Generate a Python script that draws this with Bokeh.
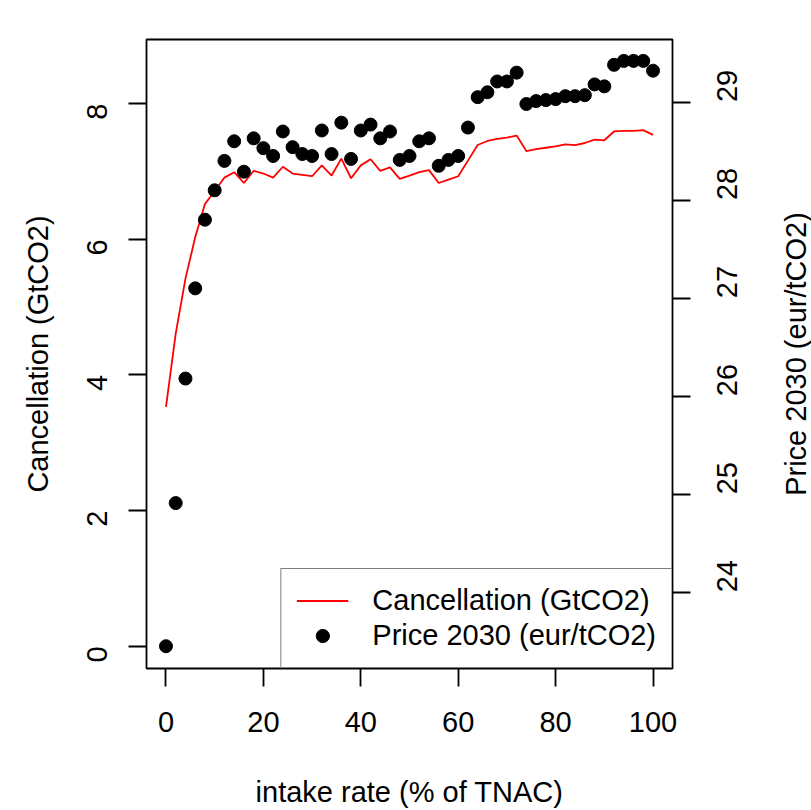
import math
from bokeh.plotting import figure
from bokeh.models import Range1d, LinearAxis, FixedTicker, Legend, LegendItem, Label
from bokeh.embed import file_html
from bokeh.resources import INLINE

# ---- data ----
intake = [0, 2, 4, 6, 8, 10, 12, 14, 16, 18, 20, 22, 24, 26, 28, 30, 32, 34, 36, 38,
          40, 42, 44, 46, 48, 50, 52, 54, 56, 58, 60, 62, 64, 66, 68, 70, 72, 74, 76, 78,
          80, 82, 84, 86, 88, 90, 92, 94, 96, 98, 100]

cancellation = [3.53, 4.61, 5.42, 6.03, 6.52, 6.71, 6.91, 6.99, 6.83, 7.01,
                6.97, 6.91, 7.07, 6.97, 6.95, 6.93, 7.09, 6.94, 7.19, 6.90,
                7.09, 7.18, 7.01, 7.06, 6.89, 6.94, 6.99, 7.02, 6.83, 6.88,
                6.93, 7.16, 7.39, 7.45, 7.48, 7.50, 7.53, 7.30, 7.33, 7.35,
                7.37, 7.40, 7.39, 7.42, 7.47, 7.46, 7.59, 7.60, 7.60, 7.61,
                7.54]

price = [23.45, 24.91, 26.18, 27.10, 27.80, 28.10, 28.40, 28.60, 28.29, 28.63,
         28.53, 28.45, 28.70, 28.54, 28.47, 28.45, 28.71, 28.47, 28.79, 28.42,
         28.71, 28.77, 28.63, 28.70, 28.41, 28.45, 28.60, 28.63, 28.35, 28.41,
         28.45, 28.74, 29.05, 29.10, 29.21, 29.21, 29.30, 28.98, 29.01, 29.02,
         29.03, 29.06, 29.06, 29.07, 29.18, 29.16, 29.38, 29.42, 29.42, 29.42,
         29.32]

x_ticks = [0, 20, 40, 60, 80, 100]
left_ticks = [0, 2, 4, 6, 8]
right_ticks = [24, 25, 26, 27, 28, 29]

x_label = "intake rate (% of TNAC)"
left_label = "Cancellation (GtCO2)"
right_label = "Price 2030 (eur/tCO2)"

FONT = "Liberation Sans"
FS = "29px"
LW = 1.8

X0, X1 = -4, 104
YL0, YL1 = -0.328, 8.946

p = figure(width=811, height=810, output_backend="svg", toolbar_location=None,
           x_range=Range1d(X0, X1), y_range=Range1d(YL0, YL1),
           min_border_left=146, min_border_right=139,
           min_border_top=39, min_border_bottom=141,
           x_axis_label=x_label, y_axis_label=left_label)
p.extra_y_ranges = {"price": Range1d(23.223, 29.638)}

p.xgrid.visible = False
p.ygrid.visible = False
p.outline_line_color = "black"
p.outline_line_width = LW
p.background_fill_color = "white"
p.border_fill_color = "white"

right_axis = LinearAxis(y_range_name="price")
p.add_layout(right_axis, "right")


def style_axis(ax, ticks):
    ax.ticker = FixedTicker(ticks=ticks)
    ax.minor_tick_line_color = None
    ax.major_tick_in = 0
    ax.major_tick_out = 18
    ax.major_tick_line_color = "black"
    ax.major_tick_line_width = LW
    ax.axis_line_color = None
    ax.major_label_text_font = FONT
    ax.major_label_text_font_size = FS
    ax.major_label_text_color = "black"
    ax.axis_label_text_font = FONT
    ax.axis_label_text_font_size = FS
    ax.axis_label_text_font_style = "normal"
    ax.axis_label_text_color = "black"


style_axis(p.xaxis[0], x_ticks)
style_axis(p.yaxis[0], left_ticks)
style_axis(right_axis, right_ticks)

p.xaxis[0].major_label_standoff = 25
p.xaxis[0].axis_label_standoff = 41

p.yaxis[0].major_label_orientation = math.pi / 2
p.yaxis[0].major_label_standoff = 31
p.yaxis[0].axis_label_standoff = 21

right_axis.major_label_orientation = math.pi / 2
right_axis.major_label_standoff = 37

# right-hand axis title, placed in the right side panel (reads bottom to top)
frame_px = 526.0
px_per_x = frame_px / (X1 - X0)
right_title = Label(x=X1 + 123.0 / px_per_x, y=(YL0 + YL1) / 2.0,
                    text=right_label, angle=math.pi / 2,
                    text_align="center", text_baseline="middle",
                    text_font=FONT, text_font_size=FS, text_color="black")
p.add_layout(right_title, "right")

line = p.line(intake, cancellation, line_color="red", line_width=LW)
pts = p.scatter(intake, price, y_range_name="price", size=13,
                fill_color="black", line_color="black", marker="circle")

legend = Legend(items=[LegendItem(label="Cancellation (GtCO2)", renderers=[line]),
                       LegendItem(label="Price 2030 (eur/tCO2)", renderers=[pts])],
                location="bottom_right", margin=0, padding=15, spacing=2,
                glyph_height=33, glyph_width=52, label_height=33, label_standoff=24,
                label_text_font=FONT, label_text_font_size=FS, label_text_color="black",
                border_line_color="black", border_line_width=LW,
                background_fill_color="white", background_fill_alpha=1.0)
p.add_layout(legend)

open("out.html", "w").write(file_html(p, INLINE))
